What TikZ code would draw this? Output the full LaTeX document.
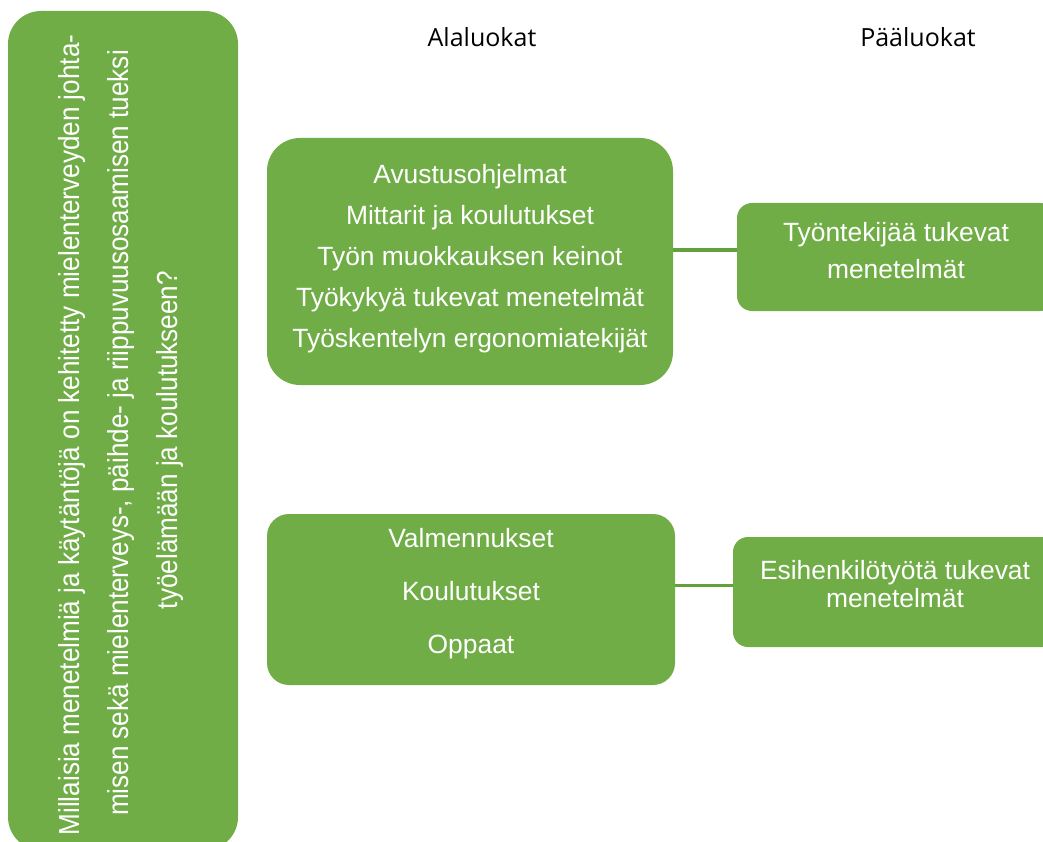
\documentclass[tikz,border=0pt]{standalone}
\usepackage{fontspec}
\setmainfont{Liberation Sans}
\newfontfamily\headfont{Open Sans}
\newfontfamily\narrowfont[FakeStretch=0.9]{Liberation Sans}
\definecolor{leaf}{HTML}{70AD47}
\definecolor{stem}{HTML}{62A13C}
\begin{document}
\begin{tikzpicture}[x=1pt,y=-1pt,
  panel/.style={rectangle, fill=leaf, draw=none, inner sep=0pt},
  boxtext/.style={text=white, align=center, inner sep=0pt},
  qline/.style={text=white, rotate=90, anchor=base, inner sep=0pt,
    font=\narrowfont\fontsize{29}{35}\selectfont},
  heading/.style={anchor=base, inner sep=0pt, text=black,
    font=\headfont\fontsize{25}{30}\selectfont},
  link/.style={draw=stem, line width=3pt}]
\useasboundingbox (0,0) rectangle (1043,842);
\clip (0,0) rectangle (1043,842);

% column headings
\node[heading] (hsub) at (482,47) {Alaluokat};
\node[heading] (hmain) at (918,47) {Pääluokat};

% research question panel
\node[panel, minimum width=230pt, minimum height=839pt, rounded corners=33pt]
  (question) at (123,430.5) {};
\node[qline] (q1) at (79,435) {Millaisia menetelmiä ja käytäntöjä on kehitetty mielenterveyden johta-};
\node[qline] (q2) at (128,433) {misen sekä mielenterveys-, päihde- ja riippuvuusosaamisen tueksi};
\node[qline] (q3) at (177,440) {työelämään ja koulutukseen?};

% subcategory panels
\node[panel, minimum width=406pt, minimum height=247pt, rounded corners=33pt]
  (sub1) at (470,261.5) {};
\node[boxtext, font=\fontsize{26.4}{41}\selectfont] (sub1text) at (470,258.2)
  {Avustusohjelmat\\Mittarit ja koulutukset\\Työn muokkauksen keinot\\Työkykyä tukevat menetelmät\\Työskentelyn ergonomiatekijät};

\node[panel, minimum width=408pt, minimum height=171pt, rounded corners=22pt]
  (sub2) at (471,599.5) {};
\node[boxtext, font=\fontsize{26.4}{53}\selectfont] (sub2text) at (471,593.2)
  {Valmennukset\\Koulutukset\\Oppaat};

% main category panels
\node[panel, minimum width=318pt, minimum height=108pt, rounded corners=15pt]
  (main1) at (896,257) {};
\node[boxtext, font=\fontsize{26.4}{37}\selectfont] (main1text) at (896,251)
  {Työntekijää tukevat\\menetelmät};

\node[panel, minimum width=324pt, minimum height=110pt, rounded corners=15pt]
  (main2) at (895,592) {};
\node[boxtext, font=\fontsize{26.4}{28}\selectfont] (main2text) at (895,584.5)
  {Esihenkilötyötä tukevat\\menetelmät};

% connectors
\draw[link] (sub1.east |- 0,250) -- (main1.west |- 0,250);
\draw[link] (sub2.east |- 0,585) -- (main2.west |- 0,585);
\end{tikzpicture}
\end{document}
